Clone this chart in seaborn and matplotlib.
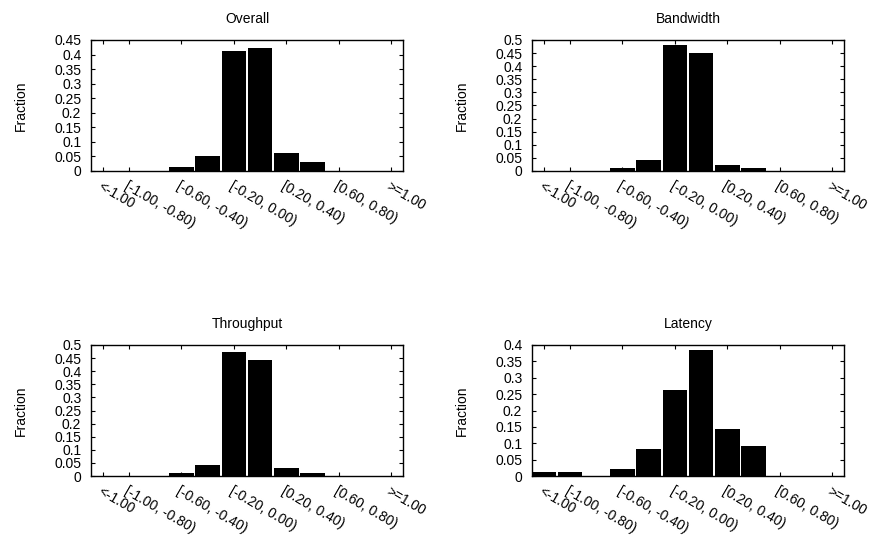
import matplotlib
matplotlib.use("Agg")
import matplotlib.pyplot as plt
import seaborn as sb
import pandas as pd
import numpy as np

bins = ["<-1.00", "[-1.00, -0.80)", "[-0.80, -0.60)", "[-0.60, -0.40)",
        "[-0.40, -0.20)", "[-0.20, 0.00)", "[0.00, 0.20)", "[0.20, 0.40)",
        "[0.40, 0.60)", "[0.60, 0.80)", "[0.80, 1.00)", ">=1.00"]
shownTicks = [0, 1, 3, 5, 7, 9, 11]  # every other bin label is drawn

overall = [0, 0, 0, 0.0125, 0.053, 0.413, 0.424, 0.062, 0.032, 0, 0, 0]
bandwidth = [0, 0, 0, 0.0125, 0.042, 0.482, 0.452, 0.024, 0.011, 0, 0, 0]
throughput = [0, 0, 0, 0.011, 0.041, 0.473, 0.443, 0.031, 0.012, 0, 0, 0]
latency = [0.011, 0.011, 0, 0.020, 0.082, 0.262, 0.384, 0.142, 0.092, 0, 0, 0]

titles = ["Overall", "Bandwidth", "Throughput", "Latency"]
yMax = [0.45, 0.5, 0.5, 0.4]

sb.set_style("ticks")
plt.rcParams['font.family'] = ['Liberation Sans', 'DejaVu Sans']
plt.rcParams['font.size'] = 10
for key in ['text.color', 'axes.labelcolor', 'xtick.color', 'ytick.color']:
    plt.rcParams[key] = 'black'

fig = plt.figure(figsize=(8.76, 5.37), dpi=100)
W, H = 876.0, 537.0
boxes = [(91, 40, 312, 131), (532, 40, 312, 131),
         (91, 345, 312, 131), (532, 345, 312, 131)]

allValues = [overall, bandwidth, throughput, latency]
for i in range(4):
    x0, y0, w, h = boxes[i]
    ax = fig.add_axes([x0 / W, 1 - (y0 + h) / H, w / W, h / H])
    df = pd.DataFrame({"bin": bins, "Fraction": allValues[i]})
    sb.barplot(data=df, x="bin", y="Fraction", order=bins, color="black",
               width=0.94, saturation=1, ax=ax)
    for patch in ax.patches:
        patch.set_facecolor("black")
        patch.set_edgecolor("none")
    ax.set_xlim(-0.45, 11.45)
    ax.set_ylim(0, yMax[i])
    yt = np.arange(0, yMax[i] + 0.001, 0.05)
    ax.set_yticks(yt)
    ax.set_yticklabels([("%g" % round(v, 2)) for v in yt])
    ax.set_xticks(shownTicks)
    ax.set_xticklabels([bins[k] for k in shownTicks], rotation=-30,
                       ha="left", va="top", rotation_mode="anchor")
    ax.tick_params(direction="in", length=3, width=0.8, top=True, right=True,
                   labelsize=10, colors="black")
    ax.tick_params(axis="y", pad=7)
    ax.tick_params(axis="x", pad=6)
    for sp in ax.spines.values():
        sp.set_visible(True)
        sp.set_linewidth(1.0)
        sp.set_color("black")
    ax.set_xlabel("")
    ax.set_ylabel("Fraction", fontsize=10)
    ax.yaxis.set_label_coords(-63.0 / w, 0.5)
    ax.set_title(titles[i], fontsize=10, pad=12)

fig.savefig("out.png", dpi=100)
